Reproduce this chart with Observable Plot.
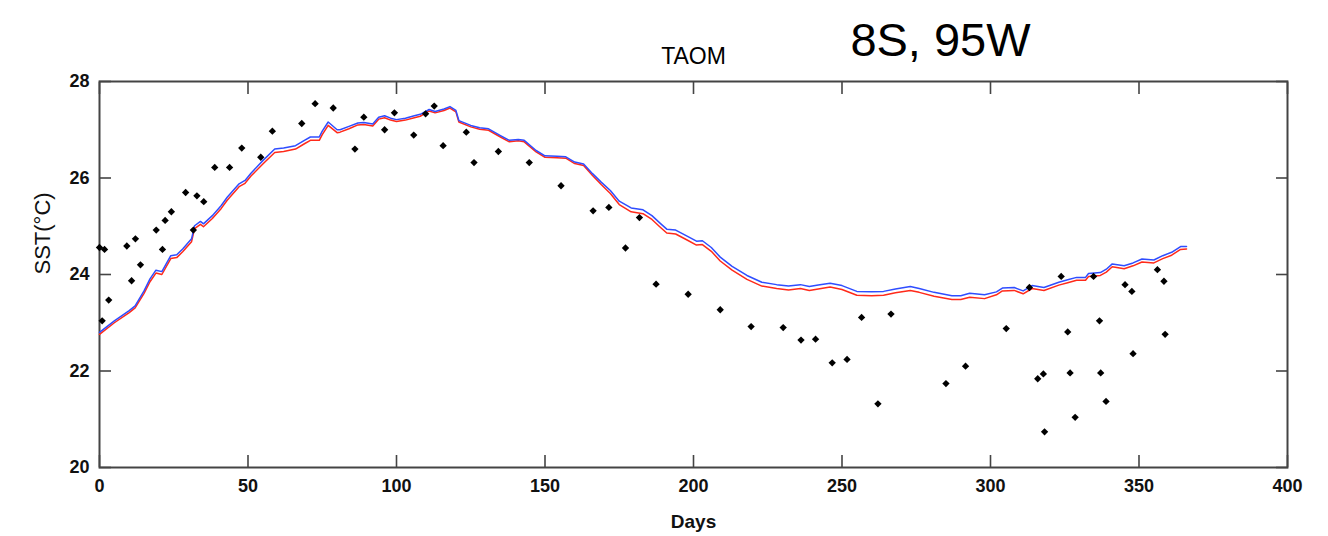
<!DOCTYPE html>
<html><head><meta charset="utf-8">
<script src="https://cdn.jsdelivr.net/npm/d3@7"></script>
<script src="https://cdn.jsdelivr.net/npm/@observablehq/plot@0.6"></script>
<style>body{margin:0;background:#fff}</style>
</head><body><div id="chart"></div>
<script>
const modelDays = [0,5,10,12,15,17,19,21,24,26,28,31,32,34,35,38,41,43,47,49,51,55,59,62,66,69,71,74,75,77,80,81,84,87,89,92,94,96,98,100,103,106,108,111,113,116,118,120,121,125,128,131,135,138,141,143,147,150,154,157,160,163,166,169,172,175,179,183,186,189,191,194,198,201,203,206,209,213,218,223,228,232,236,239,242,246,250,255,260,264,268,273,276,281,287,290,293,298,302,304,308,311,314,318,323,326,329,332,333,337,339,341,345,348,351,355,358,361,364,366];
const blueSST = [22.80,23.04,23.25,23.35,23.66,23.91,24.09,24.06,24.39,24.41,24.53,24.74,25.01,25.10,25.05,25.22,25.43,25.60,25.88,25.95,26.10,26.36,26.60,26.62,26.67,26.78,26.85,26.85,26.97,27.16,27.00,27.00,27.07,27.14,27.15,27.12,27.26,27.29,27.24,27.21,27.24,27.29,27.32,27.42,27.38,27.43,27.48,27.40,27.19,27.09,27.04,27.02,26.88,26.78,26.80,26.78,26.57,26.46,26.45,26.44,26.33,26.29,26.09,25.91,25.74,25.52,25.38,25.34,25.22,25.05,24.94,24.92,24.79,24.69,24.70,24.56,24.36,24.17,23.98,23.84,23.79,23.76,23.79,23.75,23.78,23.82,23.77,23.65,23.64,23.65,23.70,23.75,23.71,23.63,23.56,23.56,23.61,23.58,23.64,23.72,23.73,23.66,23.77,23.73,23.84,23.89,23.94,23.94,24.02,24.04,24.11,24.22,24.18,24.24,24.32,24.30,24.39,24.46,24.58,24.58];
const redSST = [22.76,23.00,23.21,23.31,23.61,23.85,24.03,24.00,24.33,24.35,24.47,24.68,24.95,25.04,24.99,25.16,25.37,25.54,25.82,25.89,26.04,26.29,26.53,26.55,26.60,26.71,26.78,26.78,26.90,27.09,26.94,26.95,27.02,27.10,27.11,27.08,27.22,27.25,27.20,27.17,27.20,27.25,27.28,27.39,27.35,27.40,27.45,27.37,27.16,27.06,27.01,26.99,26.85,26.75,26.77,26.75,26.54,26.43,26.42,26.41,26.30,26.26,26.05,25.86,25.68,25.45,25.30,25.26,25.14,24.97,24.86,24.84,24.71,24.61,24.62,24.48,24.28,24.09,23.90,23.76,23.71,23.68,23.71,23.67,23.70,23.74,23.69,23.57,23.56,23.57,23.62,23.67,23.63,23.55,23.48,23.48,23.53,23.50,23.58,23.66,23.67,23.60,23.71,23.67,23.78,23.83,23.88,23.88,23.96,23.98,24.05,24.16,24.12,24.18,24.26,24.24,24.33,24.40,24.52,24.53];
const obsDays = [0,1.7,0.9,3.1,9.2,12.1,10.8,13.8,19.1,22.1,24.2,21.2,29,32.8,35.1,31.6,38.8,43.8,47.9,54.3,58.2,68.1,72.6,78.7,86,89,96,99.3,105.8,109.8,112.7,115.7,123.5,126.1,134.3,144.7,155.4,166.2,171.5,181.8,177.1,187.4,198.2,209,219.4,230.2,236.2,241.1,246.7,251.7,256.6,266.5,262.1,285,291.6,305.3,313.1,315.9,317.8,318.2,323.8,326,326.8,328.5,334.7,336.7,337.1,338.9,345.3,347.6,348,356.2,358.4,358.8];
const obsSST = [24.56,24.52,23.04,23.47,24.59,24.74,23.87,24.20,24.92,25.12,25.30,24.52,25.70,25.63,25.51,24.92,26.22,26.22,26.62,26.43,26.97,27.13,27.54,27.45,26.60,27.26,27.00,27.35,26.89,27.33,27.49,26.67,26.95,26.32,26.55,26.32,25.84,25.32,25.39,25.18,24.55,23.80,23.59,23.27,22.92,22.90,22.64,22.66,22.17,22.24,23.11,23.18,21.32,21.74,22.10,22.88,23.73,21.84,21.94,20.74,23.96,22.81,21.96,21.04,23.96,23.04,21.96,21.37,23.79,23.65,22.36,24.10,23.86,22.76];
const xTicks = [0,50,100,150,200,250,300,350,400];
const yTicks = [20,22,24,26,28];
const titleText = "TAOM";
const siteText = "8S, 95W";
const xLabel = "Days";
const yLabel = "SST(°C)";

const blueData = modelDays.map((d,i)=>({day:d, sst:blueSST[i]}));
const redData = modelDays.map((d,i)=>({day:d, sst:redSST[i]}));
const obsData = obsDays.map((d,i)=>({day:d, sst:obsSST[i]}));

const font = "'Liberation Sans', Arial, sans-serif";
const chart = Plot.plot({
  width: 1328, height: 536,
  marginLeft: 99, marginRight: 41, marginTop: 81, marginBottom: 69,
  style: {fontFamily: font, fontSize: "18px", fontWeight: "bold", background: "#fff", color: "#111", overflow: "visible"},
  x: {domain: [0, 400]},
  y: {domain: [20, 28]},
  marks: [
    Plot.axisX({ticks: xTicks, tickSize: -12, tickPadding: 24, label: null, stroke: "#444", strokeWidth: 1.6}),
    Plot.axisX({anchor: "top", ticks: xTicks, tickSize: -12, tickFormat: () => "", label: null, stroke: "#444", strokeWidth: 1.6}),
    Plot.axisY({ticks: yTicks, tickSize: -12, tickPadding: 22, label: null, stroke: "#444", strokeWidth: 1.6}),
    Plot.axisY({anchor: "right", ticks: yTicks, tickSize: -12, tickFormat: () => "", label: null, stroke: "#444", strokeWidth: 1.6}),
    Plot.frame({stroke: "#444", strokeWidth: 2}),
    Plot.line(redData, {x: "day", y: "sst", stroke: "#ff2a1a", strokeWidth: 1.5}),
    Plot.line(blueData, {x: "day", y: "sst", stroke: "#2f4dff", strokeWidth: 1.5}),
    Plot.dot(obsData, {x: "day", y: "sst", symbol: "diamond2", r: 3.3, fill: "#000", stroke: "none"}),
    Plot.text([titleText], {frameAnchor: "top", lineAnchor: "bottom", dy: -18, fontSize: 23, fontWeight: "normal", fill: "#000"}),
    Plot.text([siteText], {frameAnchor: "top", lineAnchor: "bottom", dx: 247, dy: -26, fontSize: 47, fontWeight: "normal", fill: "#000"}),
    Plot.text([xLabel], {frameAnchor: "bottom", lineAnchor: "middle", dy: 54, fontSize: 19, fill: "#111"}),
    Plot.text([yLabel], {frameAnchor: "left", lineAnchor: "middle", dx: -57, rotate: -90, fontSize: 22, fontWeight: "normal", fill: "#111"})
  ]
});
document.getElementById("chart").appendChild(chart);
</script>
</body></html>
